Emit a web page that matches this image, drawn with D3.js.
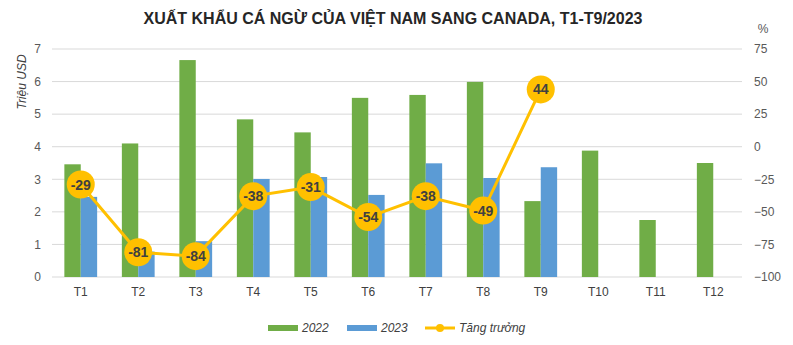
<!DOCTYPE html>
<html>
<head>
<meta charset="utf-8">
<style>
  body { margin: 0; background: #fff; }
  svg text { font-family: "Liberation Sans", Arial, sans-serif; }
  .tick text { fill: #595959; font-size: 12px; }
</style>
</head>
<body>
<svg id="chart" width="793" height="345"></svg>
<script src="https://d3js.org/d3.v7.min.js"></script>
<script>
// data
const months = ['T1','T2','T3','T4','T5','T6','T7','T8','T9','T10','T11','T12'];
const val2022 = [3.46, 4.10, 6.66, 4.84, 4.44, 5.50, 5.59, 5.99, 2.33, 3.88, 1.75, 3.50];
const val2023 = [2.46, 0.78, 1.10, 3.01, 3.07, 2.52, 3.49, 3.04, 3.37, null, null, null];
const growth = [-29, -81, -84, -38, -31, -54, -38, -49, 44];
const leftTicks = [0, 1, 2, 3, 4, 5, 6, 7];
const rightTicks = [-100, -75, -50, -25, 0, 25, 50, 75];

const svg = d3.select('#chart');
const plotL = 52, plotR = 742, plotT = 49, plotB = 277;

const x = d3.scaleBand().domain(months).range([plotL, plotR]).paddingInner(0.43).paddingOuter(0.215);
const sub = d3.scaleBand().domain(['2022', '2023']).range([0, x.bandwidth()]);
const y = d3.scaleLinear().domain([0, 7]).range([plotB, plotT]);
const y2 = d3.scaleLinear().domain([-100, 75]).range([plotB, plotT]);

// gridlines
svg.append('g')
  .selectAll('line')
  .data(leftTicks)
  .join('line')
  .attr('x1', plotL).attr('x2', plotR)
  .attr('y1', d => y(d)).attr('y2', d => y(d))
  .attr('stroke', '#d9d9d9').attr('stroke-width', 1);

// left axis
const ya = svg.append('g')
  .attr('transform', `translate(${plotL},0)`)
  .call(d3.axisLeft(y).tickValues(leftTicks).tickFormat(d3.format('d')).tickSize(0).tickPadding(11));
ya.select('.domain').remove();

// right axis
const yb = svg.append('g')
  .attr('transform', `translate(${plotR},0)`)
  .call(d3.axisRight(y2).tickValues(rightTicks).tickSize(0).tickPadding(12));
yb.select('.domain').remove();

// x axis
const xa = svg.append('g')
  .attr('transform', `translate(0,${plotB})`)
  .call(d3.axisBottom(x).tickSize(0).tickPadding(10));
xa.select('.domain').remove();
xa.selectAll('text').style('font-size', '12px').style('fill', '#404040');

// bars
const series = [
  { key: '2022', values: val2022, color: '#70AD47' },
  { key: '2023', values: val2023, color: '#5B9BD5' }
];
series.forEach(s => {
  svg.append('g')
    .selectAll('rect')
    .data(months.map((m, i) => ({ m, v: s.values[i] })).filter(d => d.v != null))
    .join('rect')
    .attr('x', d => x(d.m) + sub(s.key))
    .attr('y', d => y(d.v))
    .attr('width', sub.bandwidth())
    .attr('height', d => y(0) - y(d.v))
    .attr('fill', s.color);
});

// growth line
const pts = growth.map((g, i) => ({ m: months[i], g }));
const cx = d => x(d.m) + x.bandwidth() / 2;
svg.append('path')
  .datum(pts)
  .attr('fill', 'none')
  .attr('stroke', '#FFC000')
  .attr('stroke-width', 3)
  .attr('d', d3.line().x(cx).y(d => y2(d.g)));

const mk = svg.append('g').selectAll('g').data(pts).join('g')
  .attr('transform', d => `translate(${cx(d)},${y2(d.g)})`);
mk.append('circle').attr('r', 14).attr('fill', '#FFC000');
mk.append('text')
  .attr('text-anchor', 'middle')
  .attr('dy', '0.36em')
  .style('font-size', '14px')
  .style('font-weight', 'bold')
  .style('fill', '#404040')
  .text(d => d.g);

// title and axis labels
svg.append('text')
  .attr('x', 393).attr('y', 24)
  .attr('text-anchor', 'middle')
  .style('font-size', '16px').style('font-weight', 'bold').style('fill', '#262626')
  .text('XUẤT KHẨU CÁ NGỪ CỦA VIỆT NAM SANG CANADA, T1-T9/2023');

svg.append('text')
  .attr('x', 763).attr('y', 33)
  .attr('text-anchor', 'middle')
  .style('font-size', '12px').style('fill', '#595959')
  .text('%');

svg.append('text')
  .attr('transform', 'translate(26,82) rotate(-90)')
  .attr('text-anchor', 'middle')
  .style('font-size', '12px').style('font-style', 'italic').style('fill', '#404040')
  .text('Triệu USD');

// legend
const leg = svg.append('g').attr('transform', 'translate(0,328)');
const items = [
  { label: '2022', color: '#70AD47', x: 268, type: 'bar' },
  { label: '2023', color: '#5B9BD5', x: 347, type: 'bar' },
  { label: 'Tăng trưởng', color: '#FFC000', x: 425, type: 'line' }
];
items.forEach(it => {
  if (it.type === 'bar') {
    leg.append('rect').attr('x', it.x).attr('y', -3).attr('width', 30).attr('height', 6).attr('fill', it.color);
  } else {
    leg.append('line').attr('x1', it.x).attr('x2', it.x + 30).attr('y1', 0).attr('y2', 0)
      .attr('stroke', it.color).attr('stroke-width', 3);
    leg.append('circle').attr('cx', it.x + 15).attr('cy', 0).attr('r', 4).attr('fill', it.color);
  }
  leg.append('text')
    .attr('x', it.x + 34).attr('y', 4)
    .style('font-size', '12px').style('font-style', 'italic').style('fill', '#404040')
    .text(it.label);
});
</script>
</body>
</html>
